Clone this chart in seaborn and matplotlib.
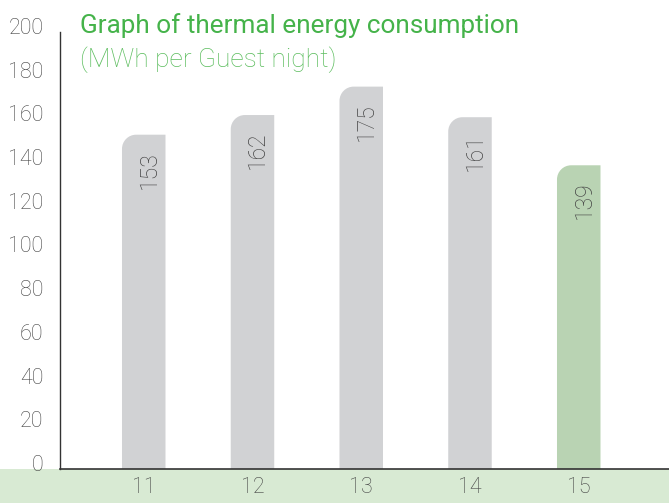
import matplotlib
matplotlib.use("Agg")
import matplotlib.pyplot as plt
import matplotlib.transforms as mtransforms
import seaborn as sns
import pandas as pd
from matplotlib.path import Path
from matplotlib.patches import PathPatch, Rectangle

# Dades
years = ["11", "12", "13", "14", "15"]
consumption = [153, 162, 175, 161, 139]
y_ticks = [0, 20, 40, 60, 80, 100, 120, 140, 160, 180, 200]

grey = "#d1d2d4"
green_bar = "#b5d8ae"
band = "#d8ead3"
txt = "#444444"

sns.set_style("white")
plt.rcParams["font.family"] = ["Roboto", "DejaVu Sans"]
plt.rcParams["font.weight"] = "light"

df = pd.DataFrame({"year": years, "value": consumption})
colors = [grey] * (len(years) - 1) + [green_bar]

fig = plt.figure(figsize=(6.69, 5.03), dpi=100)
ax = fig.add_axes([60 / 669, 1 - 469 / 503, 609 / 669, (469 - 32) / 503])

sns.barplot(data=df, x="year", y="value", hue="year", palette=colors,
            width=0.4, legend=False, ax=ax)

ax.set_xlim(-0.77, 4.83)
ax.set_ylim(0, 200)

# Barres amb la cantonada superior esquerra arrodonida
rx, ry = 0.13, 6.5
k = 0.5523
for p in list(ax.patches):
    x0, w, h = p.get_x(), p.get_width(), p.get_height()
    fc = p.get_facecolor()
    p.set_visible(False)
    x1 = x0 + w
    verts = [
        (x0, 0), (x1, 0), (x1, h), (x0 + rx, h),
        (x0 + rx - k * rx, h), (x0, h - ry + k * ry), (x0, h - ry),
        (x0, 0), (x0, 0),
    ]
    codes = [Path.MOVETO, Path.LINETO, Path.LINETO, Path.LINETO,
             Path.CURVE4, Path.CURVE4, Path.CURVE4,
             Path.LINETO, Path.CLOSEPOLY]
    ax.add_patch(PathPatch(Path(verts, codes), facecolor=fc, edgecolor="none"))

# Etiquetes dins les barres
for i, v in enumerate(consumption):
    ax.text(i + 0.05, v - 7.5, str(v), rotation=90, ha="center", va="top",
            fontsize=16.5, color=txt, fontweight="light")

ax.set_yticks(y_ticks)
ax.set_yticklabels([str(t) for t in y_ticks], fontsize=15.5, color=txt, fontweight="light")
ax.tick_params(axis="y", length=0, pad=12)
ax.tick_params(axis="x", length=0, pad=6, labelsize=15.5, labelcolor=txt)
for lab in ax.get_xticklabels():
    lab.set_fontweight("light")
# Les etiquetes de l'eix y una mica amunt
offset = mtransforms.ScaledTranslation(0, 6 / 100, fig.dpi_scale_trans)
for lab in ax.get_yticklabels():
    lab.set_transform(lab.get_transform() + offset)
ax.set_xlabel("")
ax.set_ylabel("")

for s in ["top", "right"]:
    ax.spines[s].set_visible(False)
ax.spines["left"].set_color("#333333")
ax.spines["bottom"].set_color("#333333")
ax.spines["left"].set_linewidth(1)
ax.spines["bottom"].set_linewidth(1.2)

# Banda verda inferior
fig.patches.append(Rectangle((0, 0), 1, 1 - 469 / 503, transform=fig.transFigure,
                             facecolor=band, edgecolor="none", zorder=-1))

fig.text(80 / 669, 1 - 33 / 503, "Graph of thermal energy consumption",
         fontsize=18.8, color="#45b34a", ha="left", va="baseline", fontweight="normal")
fig.text(80 / 669, 1 - 67 / 503, "(MWh per Guest night)",
         fontsize=19, color="#5cbd5e", ha="left", va="baseline", fontweight="light")

fig.savefig("out.png", dpi=100)
